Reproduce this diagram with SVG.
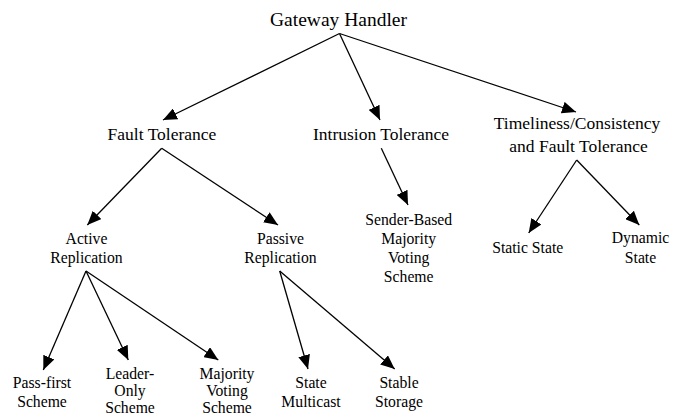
<svg xmlns="http://www.w3.org/2000/svg" width="684" height="414" viewBox="0 0 684 414">
<style>
text{font-family:"Liberation Serif","Times New Roman",serif;fill:#000;text-anchor:middle}
.l1{font-size:19.5px}
.l2{font-size:17.5px}
.l3{font-size:15.7px}
#connectors line{stroke:#000;stroke-width:1.3;marker-end:url(#ah)}
</style>
<defs>
<marker id="ah" markerUnits="userSpaceOnUse" markerWidth="14" markerHeight="12" viewBox="0 0 14 12" refX="14" refY="6" orient="auto">
<path d="M0,0 L14,6 L0,12 Z" fill="#000"/>
</marker>
</defs>
<rect width="684" height="414" fill="#fff"/>
<g id="connectors">
<line x1="339.5" y1="33.5" x2="163" y2="120"/>
<line x1="339.5" y1="33.5" x2="380" y2="120"/>
<line x1="339.5" y1="33.5" x2="576" y2="112"/>
<line x1="161.7" y1="148.3" x2="87.3" y2="225"/>
<line x1="161.7" y1="148.3" x2="278" y2="225"/>
<line x1="381.3" y1="148.3" x2="408" y2="205"/>
<line x1="576.7" y1="160" x2="528.7" y2="233"/>
<line x1="576.7" y1="160" x2="639.3" y2="225"/>
<line x1="86" y1="271" x2="43.3" y2="370"/>
<line x1="86" y1="271" x2="128.3" y2="360"/>
<line x1="86" y1="271" x2="218.3" y2="360"/>
<line x1="279.7" y1="271" x2="308" y2="369"/>
<line x1="279.7" y1="271" x2="394.7" y2="369"/>
</g>
<g id="gateway"><text class="l1" x="338.5" y="26">Gateway Handler</text></g>
<g id="fault"><text class="l2" x="162" y="140">Fault Tolerance</text></g>
<g id="intrusion"><text class="l2" x="381" y="140">Intrusion Tolerance</text></g>
<g id="timeliness"><text class="l2" x="577" y="129.3">Timeliness/Consistency</text><text class="l2" x="578.5" y="151.7">and Fault Tolerance</text></g>
<g id="active"><text class="l3" x="86.5" y="244">Active</text><text class="l3" x="86.5" y="262.7">Replication</text></g>
<g id="passive"><text class="l3" x="280.5" y="244">Passive</text><text class="l3" x="280.5" y="262.7">Replication</text></g>
<g id="sender"><text class="l3" x="408.7" y="225">Sender-Based</text><text class="l3" x="408.7" y="244">Majority</text><text class="l3" x="408.7" y="262.7">Voting</text><text class="l3" x="408.7" y="281.7">Scheme</text></g>
<g id="static"><text class="l3" x="527.7" y="253.3">Static State</text></g>
<g id="dynamic"><text class="l3" x="640.5" y="243.3">Dynamic</text><text class="l3" x="640.5" y="262.7">State</text></g>
<g id="passfirst"><text class="l3" x="42" y="388.3">Pass-first</text><text class="l3" x="42" y="407.3">Scheme</text></g>
<g id="leader"><text class="l3" x="130" y="378.5">Leader-</text><text class="l3" x="130" y="395.5">Only</text><text class="l3" x="130" y="412.5">Scheme</text></g>
<g id="majority"><text class="l3" x="227" y="378.5">Majority</text><text class="l3" x="227" y="395.5">Voting</text><text class="l3" x="227" y="412.5">Scheme</text></g>
<g id="multicast"><text class="l3" x="311" y="388.3">State</text><text class="l3" x="311" y="406.7">Multicast</text></g>
<g id="stable"><text class="l3" x="399" y="388.3">Stable</text><text class="l3" x="399" y="406.7">Storage</text></g>
</svg>
